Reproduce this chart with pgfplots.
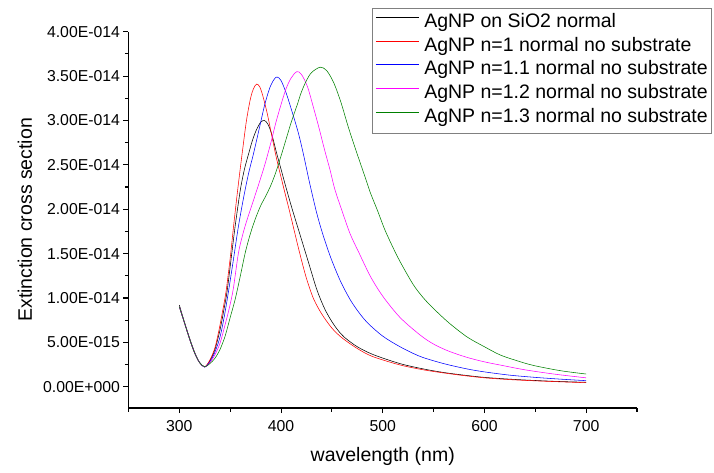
\documentclass[border=0pt]{standalone}
\usepackage{fontspec}
\setmainfont{Liberation Sans}
\usepackage{pgfplots}
\pgfplotsset{compat=1.18}
\definecolor{ogreen}{RGB}{0,128,0}
\definecolor{omag}{RGB}{255,0,255}
\definecolor{ored}{RGB}{255,0,0}
\definecolor{oblue}{RGB}{0,0,255}
\begin{document}
\begin{tikzpicture}
\useasboundingbox (-128.5pt,-64pt) rectangle (585.5pt,408pt);
\begin{axis}[
  at={(0pt,0pt)}, anchor=south west,
  scale only axis, width=508.5pt, height=376.3pt,
  xmin=250, xmax=750, ymin=-0.24, ymax=4.0,
  axis x line*=bottom, axis y line*=left,
  x axis line style={-}, y axis line style={-},
  axis line style={line width=1.1pt},
  tick align=outside,
  major tick length=5pt, minor tick length=3.5pt,
  every tick/.style={line width=1.1pt, black},
  xtick={300,400,500,600,700}, minor xtick={250,350,450,550,650,750},
  ytick={0,0.5,1,1.5,2,2.5,3,3.5,4}, minor ytick={0.25,0.75,1.25,1.75,2.25,2.75,3.25,3.75},
  yticklabels={0.00E+000,5.00E-015,1.00E-014,1.50E-014,2.00E-014,2.50E-014,3.00E-014,3.50E-014,4.00E-014},
  /pgf/number format/assume math mode=true,
  tick label style={font=\fontsize{15.8}{18}\selectfont},
  xticklabel style={yshift=-4pt},
  xlabel={wavelength (nm)}, ylabel={Extinction cross section},
  xlabel style={font=\fontsize{19.5}{23}\selectfont, at={(axis description cs:0.5,-0.142)}, anchor=base},
  ylabel style={font=\fontsize{19.5}{23}\selectfont, at={(axis description cs:-0.2035,0.5)}, anchor=center},
  legend style={at={(1.1475,1.0630)}, anchor=north east, draw=gray, line width=0.6pt,
    font=\fontsize{19.5}{23}\selectfont, inner sep=3pt, row sep=0pt,
    nodes={inner sep=1pt, text height=15pt, text depth=6.8pt}},
  legend cell align=left,
  legend image code/.code={\draw[#1, line width=0.6pt] (0pt,6pt) -- (43pt,6pt); \path (47pt,6pt);},
  every axis plot/.append style={line width=0.55pt, smooth},
]
\addplot[black] table {
300 0.92
305 0.73
310 0.55
315 0.39
320 0.27
325 0.222
330 0.29
335 0.42
340 0.64
344 0.88
347 1.08
351 1.45
355 1.82
360 2.22
364 2.45
368 2.62
372 2.78
376 2.90
380 2.98
383.5 3.00
387 2.96
391 2.84
395 2.66
400 2.45
405 2.24
411 2.00
419 1.70
427 1.40
435 1.10
442 0.90
448 0.77
455 0.65
462 0.56
475 0.45
491 0.36
517 0.26
540 0.20
560 0.16
580 0.13
600 0.105
625 0.085
650 0.07
675 0.058
700 0.05
};
\addlegendentry{AgNP on SiO2 normal}
\addplot[ored] table {
300 0.90
305 0.72
310 0.54
315 0.38
320 0.27
325 0.225
330 0.30
335 0.44
339 0.64
343 0.88
346 1.08
350 1.45
354 1.88
358 2.28
362 2.65
366 3.00
370 3.25
373 3.36
376 3.41
379 3.38
382 3.28
386 3.10
390 2.88
395 2.60
400 2.36
405 2.13
410 1.90
418 1.52
425 1.22
432 0.99
440 0.82
450 0.66
460 0.55
475 0.43
490 0.34
517 0.245
540 0.19
560 0.155
580 0.125
600 0.10
625 0.08
650 0.066
675 0.055
700 0.045
};
\addlegendentry{AgNP n=1 normal no substrate}
\addplot[oblue] table {
300 0.90
305 0.72
310 0.54
315 0.38
320 0.27
325 0.222
330 0.28
335 0.39
340 0.56
344 0.78
348 1.05
353 1.42
358 1.80
363 2.12
368 2.40
373 2.63
379 2.93
384 3.18
389 3.37
393 3.46
396 3.49
400 3.45
405 3.31
410 3.13
417 2.86
422 2.62
428 2.30
435 1.96
441 1.72
449 1.45
458 1.20
467 1.00
475 0.86
485 0.72
500 0.57
517 0.45
537 0.34
560 0.26
583 0.20
600 0.167
625 0.13
650 0.105
675 0.085
700 0.068
};
\addlegendentry{AgNP n=1.1 normal no substrate}
\addplot[omag] table {
300 0.90
305 0.72
310 0.54
315 0.38
320 0.27
325 0.222
330 0.27
335 0.36
340 0.49
345 0.70
349 0.88
353 1.10
358 1.50
362 1.70
366 1.86
372 2.07
378 2.28
384 2.50
390 2.75
395 2.98
400 3.18
405 3.36
410 3.48
415.5 3.55
420 3.52
426 3.38
432 3.14
437 2.93
443 2.66
448 2.45
453 2.22
460 1.98
468 1.72
477 1.50
488 1.24
500 1.02
517 0.78
537 0.58
550 0.48
565 0.40
583 0.33
600 0.28
615 0.245
640 0.19
670 0.14
700 0.10
};
\addlegendentry{AgNP n=1.2 normal no substrate}
\addplot[ogreen] table {
300 0.90
305 0.72
310 0.54
315 0.38
320 0.27
325 0.225
330 0.26
335 0.32
340 0.42
345 0.57
350 0.78
355 0.99
360 1.25
365 1.52
370 1.73
375 1.90
380 2.04
385 2.15
390 2.27
395 2.42
400 2.60
405 2.79
410 2.98
416 3.18
420 3.32
425 3.45
430 3.54
438.5 3.60
445 3.56
452 3.42
459 3.20
466 2.93
472 2.72
477 2.55
483 2.35
488 2.18
495 1.98
502 1.77
510 1.57
517 1.41
530 1.15
540 1.00
550 0.88
565 0.72
583 0.56
600 0.45
615 0.36
630 0.30
648 0.24
675 0.18
700 0.143
};
\addlegendentry{AgNP n=1.3 normal no substrate}
\end{axis}
\end{tikzpicture}
\end{document}
